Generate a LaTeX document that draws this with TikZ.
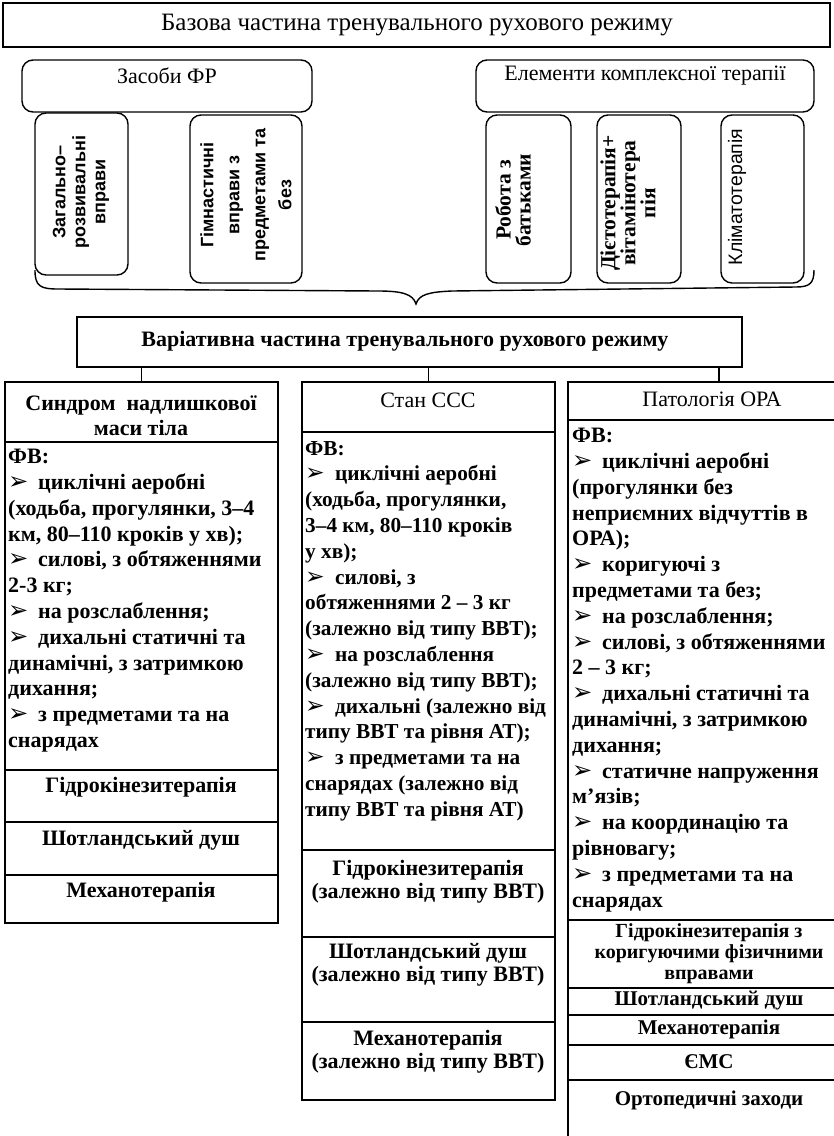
\documentclass[tikz,border=0pt]{standalone}
\usepackage{fontspec}
\setmainfont{Liberation Serif}
\newfontfamily\sansfam{Liberation Sans}
\newfontfamily\bulletfont[Scale=1.1]{DejaVu Sans}
\usetikzlibrary{fit,calc}

% arrowhead bullet with a fixed gap before the item text
\newcommand{\bl}{\makebox[30pt][l]{\bulletfont ➢}}

\begin{document}
\begin{tikzpicture}[x=1pt,y=-1pt,
  frame/.style={draw, line width=1.4pt, inner sep=0pt},
  rbox/.style={draw, line width=1.4pt, rounded corners=11pt, inner sep=0pt, fill=white},
  cellbox/.style={draw, line width=1.3pt, inner sep=0pt},
  txt/.style={inner sep=0pt, align=center, font=\fontsize{22}{23}\selectfont},
  btxt/.style={inner sep=0pt, align=center, font=\fontsize{22}{23}\selectfont\bfseries},
  listtxt/.style={inner sep=0pt, align=left, anchor=north west, font=\fontsize{22}{25.8}\selectfont\bfseries},
  vsans/.style={inner sep=0pt, align=center, rotate=90, font=\sansfam\bfseries\fontsize{18}{20}\selectfont},
  vserif/.style={inner sep=0pt, align=center, rotate=90, font=\bfseries\fontsize{21.5}{20}\selectfont},
  link/.style={line width=1.3pt}
]
\useasboundingbox (0,0) rectangle (834,1136);
\clip (0,0) rectangle (834,1136);

% ---- basic part ----
\node[frame, line width=1.8pt, fit={(3,3) (830,47)}] (base) {};
\node[txt, font=\fontsize{25}{26}\selectfont] (baset) at (417,25) {Базова частина тренувального рухового режиму};

\node[rbox, fit={(22,60) (312,112)}] (zas) {};
\node[txt] (zast) at (167,76) {Засоби ФР};
\node[rbox, fit={(476,60) (814,112)}] (elem) {};
\node[txt] (elemt) at (645,76) {Елементи комплексної терапії};

\node[rbox, fit={(35,113) (128,275)}] (zag) {};
\node[vsans] (zagt) at (81,192) {Загально–\\розвивальні\\вправи};
\node[rbox, fit={(190,115) (302,283)}] (gimn) {};
\node[vsans, font=\sansfam\bfseries\fontsize{18}{26}\selectfont] (gimnt) at (246,195) {Гімнастичні\\вправи з\\предметами та\\без};
\node[rbox, fit={(486,115) (571,283)}] (rob) {};
\node[vserif] (robt) at (513,200) {Робота з\\батьками};
\node[rbox, fit={(597,115) (681,283)}] (diet) {};
\node[vserif] (diett) at (628,203) {Дієтотерапія+\\вітамінотера\\пія};
\node[rbox, fit={(721,115) (804,283)}] (klim) {};
\node[inner sep=0pt, rotate=90, font=\sansfam\fontsize{19.5}{20}\selectfont] (klimt) at (737,197) {Кліматотерапія};

% brace gathering both groups
\coordinate (braceL) at (35,270);
\coordinate (tip) at (416,304);
\coordinate (braceR) at (814,270);
\draw[line width=1.4pt] (braceL) .. controls (35,286) and (40,289) .. (58,289) -- (378,291)
  .. controls (402,291) and (413,294) .. (tip)
  .. controls (419,294) and (430,292) .. (452,291) -- (796,287)
  .. controls (810,287) and (814,283) .. (braceR);

% ---- variable part ----
\node[frame, line width=1.6pt, fit={(77,317) (742,367)}] (var) {};
\node[btxt] (vart) at (405,341) {Варіативна частина тренувального рухового режиму};

% column 1
\node[cellbox, fit={(5,382) (278,442)}] (c1h) {};
\node[btxt, font=\fontsize{22}{25}\selectfont\bfseries] (c1ht) at (141,416) {Синдром\ \ надлишкової\\маси тіла};
\node[cellbox, fit={(5,442) (278,770)}] (c1l) {};
\node[listtxt] (c1lt) at (8,449) {ФВ:\\
\bl циклічні аеробні\\
(ходьба, прогулянки, 3–4\\
км, 80–110 кроків у хв);\\
\bl силові, з обтяженнями\\
2-3 кг;\\
\bl на розслаблення;\\
\bl дихальні статичні та\\
динамічні, з затримкою\\
дихання;\\
\bl з предметами та на\\
снарядах};
\node[cellbox, fit={(5,770) (278,822)}] (c1a) {};
\node[btxt] (c1at) at (141,787) {Гідрокінезитерапія};
\node[cellbox, fit={(5,822) (278,875)}] (c1b) {};
\node[btxt] (c1bt) at (141,840) {Шотландський душ};
\node[cellbox, fit={(5,875) (278,923)}] (c1c) {};
\node[btxt] (c1ct) at (141,892) {Механотерапія};

% column 2
\node[cellbox, fit={(302,382) (555,432)}] (c2h) {};
\node[txt] (c2ht) at (428,400) {Стан ССС};
\node[cellbox, fit={(302,432) (555,850)}] (c2l) {};
\node[listtxt, font=\fontsize{21.3}{25.8}\selectfont\bfseries] (c2lt) at (305,441) {ФВ:\\
\bl циклічні аеробні\\
(ходьба, прогулянки,\\
3–4 км, 80–110 кроків\\
у хв);\\
\bl силові, з\\
обтяженнями 2 – 3 кг\\
(залежно від типу ВВТ);\\
\bl на розслаблення\\
(залежно від типу ВВТ);\\
\bl дихальні (залежно від\\
типу ВВТ та рівня АТ);\\
\bl з предметами та на\\
снарядах (залежно від\\
типу ВВТ та рівня АТ)};
\node[cellbox, fit={(302,850) (555,937)}] (c2a) {};
\node[btxt] (c2at) at (428,882) {Гідрокінезитерапія\\(залежно від типу ВВТ)};
\node[cellbox, fit={(302,937) (555,1022)}] (c2b) {};
\node[btxt] (c2bt) at (428,965) {Шотландський душ\\(залежно від типу ВВТ)};
\node[cellbox, fit={(302,1022) (555,1100)}] (c2c) {};
\node[btxt] (c2ct) at (428,1052) {Механотерапія\\(залежно від типу ВВТ)};

% column 3
\node[cellbox, fit={(568,382) (852,420)}] (c3h) {};
\node[txt] (c3ht) at (712,399) {Патологія ОРА};
\node[cellbox, fit={(568,420) (852,920)}] (c3l) {};
\node[listtxt] (c3lt) at (572,428) {ФВ:\\
\bl циклічні аеробні\\
(прогулянки без\\
неприємних відчуттів в\\
ОРА);\\
\bl коригуючі з\\
предметами та без;\\
\bl на розслаблення;\\
\bl силові, з обтяженнями\\
2 – 3 кг;\\
\bl дихальні статичні та\\
динамічні, з затримкою\\
дихання;\\
\bl статичне напруження\\
м’язів;\\
\bl на координацію та\\
рівновагу;\\
\bl з предметами та на\\
снарядах};
\node[cellbox, fit={(568,920) (852,988)}] (c3a) {};
\node[btxt, font=\fontsize{20}{21}\selectfont\bfseries] (c3at) at (709,954) {Гідрокінезитерапія з\\коригуючими фізичними\\вправами};
\node[cellbox, fit={(568,988) (852,1015)}] (c3b) {};
\node[btxt, font=\fontsize{21}{21}\selectfont\bfseries] (c3bt) at (709,1001) {Шотландський душ};
\node[cellbox, fit={(568,1015) (852,1045)}] (c3c) {};
\node[btxt, font=\fontsize{21}{21}\selectfont\bfseries] (c3ct) at (709,1029) {Механотерапія};
\node[cellbox, fit={(568,1045) (852,1080)}] (c3d) {};
\node[btxt, font=\fontsize{21}{21}\selectfont\bfseries] (c3dt) at (709,1062) {ЄМС};
\node[cellbox, fit={(568,1080) (852,1160)}] (c3e) {};
\node[btxt, font=\fontsize{21}{21}\selectfont\bfseries] (c3et) at (709,1100) {Ортопедичні заходи};

% connectors from the variable part to the three columns
\draw[link] (var.south -| c1h.north) -- (c1h.north);
\draw[link] (var.south -| c2h.north) -- (c2h.north);
\draw[link] ($(c3h.north |- var.south)+(9,0)$) -- ($(c3h.north)+(9,0)$);
\end{tikzpicture}
\end{document}
